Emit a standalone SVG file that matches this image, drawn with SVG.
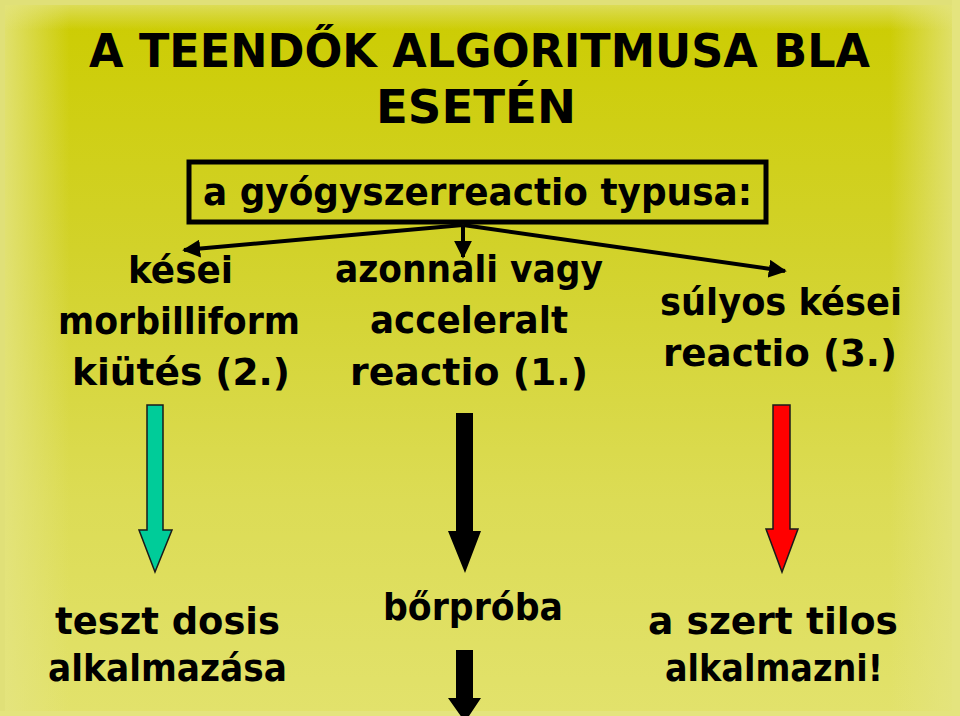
<svg xmlns="http://www.w3.org/2000/svg" width="960" height="716" viewBox="0 0 960 716">
<defs>
<linearGradient id="bg" x1="0" y1="0" x2="0" y2="1">
<stop offset="0" stop-color="#cccc00"/>
<stop offset="0.35" stop-color="#d2d22a"/>
<stop offset="0.7" stop-color="#dcdc55"/>
<stop offset="1" stop-color="#e2e26c"/>
</linearGradient>
<linearGradient id="edgeL" x1="0" y1="0" x2="1" y2="0">
<stop offset="0" stop-color="#e4e480" stop-opacity="0.9"/>
<stop offset="1" stop-color="#e4e480" stop-opacity="0"/>
</linearGradient>
<linearGradient id="edgeR" x1="1" y1="0" x2="0" y2="0">
<stop offset="0" stop-color="#e4e480" stop-opacity="0.9"/>
<stop offset="1" stop-color="#e4e480" stop-opacity="0"/>
</linearGradient>
<linearGradient id="edgeT" x1="0" y1="0" x2="0" y2="1">
<stop offset="0" stop-color="#e4e480" stop-opacity="0.8"/>
<stop offset="1" stop-color="#e4e480" stop-opacity="0"/>
</linearGradient>
<marker id="ah" viewBox="0 0 10 10" refX="9" refY="5" markerWidth="4.5" markerHeight="4.5" markerUnits="strokeWidth" orient="auto">
<path d="M0,0 L10,5 L0,10 z" fill="#000"/>
</marker>
<style>
.t{font-family:"DejaVu Sans","Liberation Sans",sans-serif;font-weight:bold;fill:#000;}
.h{font-size:46px;}
.b{font-size:38px;}
.conn{stroke:#000;stroke-width:4;fill:none;marker-end:url(#ah);}
.arr{stroke:#1a1a1a;stroke-width:1.5;stroke-linejoin:miter;}
</style>
</defs>
<rect x="0" y="0" width="960" height="716" fill="url(#bg)"/>
<rect x="0" y="0" width="70" height="716" fill="url(#edgeL)"/>
<rect x="890" y="0" width="70" height="716" fill="url(#edgeR)"/>
<rect x="0" y="0" width="960" height="30" fill="url(#edgeT)"/>
<rect x="0" y="0" width="960" height="5" fill="#e0e078"/>
<rect x="0" y="0" width="5" height="716" fill="#e0e078"/>
<rect x="952" y="0" width="8" height="716" fill="#e4e47e"/>
<rect x="0" y="711" width="960" height="5" fill="#e4e47e"/>

<g id="title">
<text class="t h" x="89" y="67" textLength="781" lengthAdjust="spacingAndGlyphs">A TEENDŐK ALGORITMUSA BLA</text>
<text class="t h" x="376" y="123" textLength="200" lengthAdjust="spacingAndGlyphs">ESETÉN</text>
</g>

<g id="type-box">
<rect x="189" y="162" width="577" height="60" fill="none" stroke="#000" stroke-width="5"/>
<text class="t b" x="203" y="205" textLength="549" lengthAdjust="spacingAndGlyphs">a gyógyszerreactio typusa:</text>
</g>

<g id="connectors">
<line class="conn" x1="463" y1="225" x2="184" y2="250"/>
<line class="conn" x1="463" y1="225" x2="463" y2="257"/>
<line class="conn" x1="463" y1="225" x2="785" y2="271"/>
</g>

<g id="late-rash">
<text class="t b" x="128" y="283" textLength="105" lengthAdjust="spacingAndGlyphs">kései</text>
<text class="t b" x="58" y="334" textLength="242" lengthAdjust="spacingAndGlyphs">morbilliform</text>
<text class="t b" x="72" y="385" textLength="218" lengthAdjust="spacingAndGlyphs">kiütés (2.)</text>
</g>

<g id="immediate">
<text class="t b" x="335" y="282" textLength="268" lengthAdjust="spacingAndGlyphs">azonnali vagy</text>
<text class="t b" x="370" y="333" textLength="198" lengthAdjust="spacingAndGlyphs">acceleralt</text>
<text class="t b" x="350" y="385" textLength="238" lengthAdjust="spacingAndGlyphs">reactio (1.)</text>
</g>

<g id="severe-late">
<text class="t b" x="660" y="315" textLength="242" lengthAdjust="spacingAndGlyphs">súlyos kései</text>
<text class="t b" x="663" y="366" textLength="234" lengthAdjust="spacingAndGlyphs">reactio (3.)</text>
</g>

<g id="arrow-green">
<path class="arr" fill="#00cc99" d="M147,405 L163,405 L163,530 L172,530 L155,572 L139,530 L147,530 Z"/>
</g>
<g id="arrow-black">
<path fill="#000" d="M456,413 L473,413 L473,531 L481,531 L465,573 L448,531 L456,531 Z"/>
</g>
<g id="arrow-red">
<path class="arr" fill="#ff0000" d="M773,405 L790,405 L790,529 L798,529 L782,572 L766,529 L773,529 Z"/>
</g>

<g id="test-dose">
<text class="t b" x="55" y="634" textLength="225" lengthAdjust="spacingAndGlyphs">teszt dosis</text>
<text class="t b" x="48" y="681" textLength="239" lengthAdjust="spacingAndGlyphs">alkalmazása</text>
</g>

<g id="skin-test">
<text class="t b" x="383" y="620" textLength="180" lengthAdjust="spacingAndGlyphs">bőrpróba</text>
</g>
<g id="arrow-black-bottom">
<path fill="#000" d="M456,650 L473,650 L473,698 L481,698 L465,722 L448,698 L456,698 Z"/>
</g>

<g id="forbidden">
<text class="t b" x="648" y="634" textLength="250" lengthAdjust="spacingAndGlyphs">a szert tilos</text>
<text class="t b" x="665" y="681" textLength="218" lengthAdjust="spacingAndGlyphs">alkalmazni!</text>
</g>
</svg>
